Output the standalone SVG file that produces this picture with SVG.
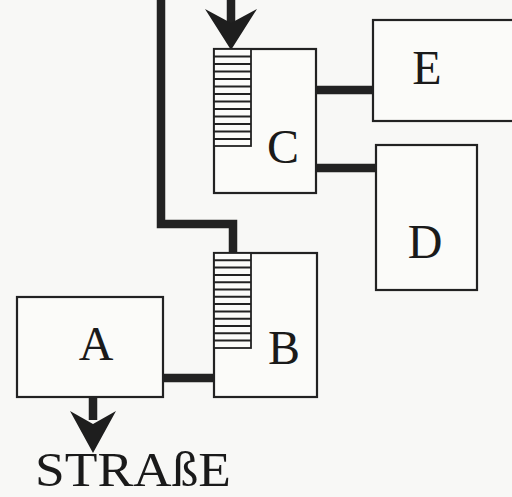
<svg xmlns="http://www.w3.org/2000/svg" width="512" height="497" viewBox="0 0 512 497">
<style>
.box{fill:#fbfbf9;stroke:#222;stroke-width:2.2}
.hatch{fill:#fbfbf9;stroke:#222;stroke-width:1.8}
.hl{stroke:#222;stroke-width:2}
.pipe{fill:none;stroke:#222;stroke-width:8.5;stroke-linejoin:miter;stroke-linecap:butt}
.lbl{font-family:"Liberation Serif","Times New Roman",serif;font-size:48px;fill:#1a1a1a;text-anchor:middle}
.arrow{fill:#1e1e1e}
</style>
<rect width="512" height="497" fill="#f8f8f6"/>
<g id="connectors">
<polyline class="pipe" points="161,0 161,224 233,224 233,254"/>
<line class="pipe" x1="163" y1="378" x2="215" y2="378"/>
<line class="pipe" x1="316" y1="90" x2="374" y2="90"/>
<line class="pipe" x1="316" y1="168" x2="377" y2="168"/>
<line class="pipe" x1="231" y1="0" x2="231" y2="28"/>
<polygon class="arrow" points="205,9 231,23 257,9 231,50"/>
<line class="pipe" x1="93" y1="397" x2="93" y2="420"/>
<polygon class="arrow" points="70,411 93,424 116,411 93,453"/>
</g>
<g id="node-C">
<rect class="box" x="214" y="49" width="102" height="144"/>
<rect class="hatch" x="214" y="49" width="37" height="97"/>
<g class="hl">
<line x1="214" x2="251" y1="56.5" y2="56.5"/><line x1="214" x2="251" y1="64" y2="64"/>
<line x1="214" x2="251" y1="71.5" y2="71.5"/><line x1="214" x2="251" y1="79" y2="79"/>
<line x1="214" x2="251" y1="86.5" y2="86.5"/><line x1="214" x2="251" y1="94" y2="94"/>
<line x1="214" x2="251" y1="101.5" y2="101.5"/><line x1="214" x2="251" y1="109" y2="109"/>
<line x1="214" x2="251" y1="116.5" y2="116.5"/><line x1="214" x2="251" y1="124" y2="124"/>
<line x1="214" x2="251" y1="131.5" y2="131.5"/><line x1="214" x2="251" y1="139" y2="139"/>
</g>
<text class="lbl" x="283" y="163">C</text>
</g>
<g id="node-B">
<rect class="box" x="214" y="253" width="103" height="144"/>
<rect class="hatch" x="214" y="253" width="37" height="95"/>
<g class="hl">
<line x1="214" x2="251" y1="260.3" y2="260.3"/><line x1="214" x2="251" y1="267.6" y2="267.6"/>
<line x1="214" x2="251" y1="274.9" y2="274.9"/><line x1="214" x2="251" y1="282.2" y2="282.2"/>
<line x1="214" x2="251" y1="289.5" y2="289.5"/><line x1="214" x2="251" y1="296.8" y2="296.8"/>
<line x1="214" x2="251" y1="304.1" y2="304.1"/><line x1="214" x2="251" y1="311.4" y2="311.4"/>
<line x1="214" x2="251" y1="318.7" y2="318.7"/><line x1="214" x2="251" y1="326" y2="326"/>
<line x1="214" x2="251" y1="333.3" y2="333.3"/><line x1="214" x2="251" y1="340.6" y2="340.6"/>
</g>
<text class="lbl" x="284" y="364">B</text>
</g>
<g id="node-A">
<rect class="box" x="17" y="297" width="146" height="100"/>
<text class="lbl" x="96" y="360">A</text>
</g>
<g id="node-E">
<rect class="box" x="373" y="20" width="145" height="101"/>
<text class="lbl" x="427" y="84">E</text>
</g>
<g id="node-D">
<rect class="box" x="376" y="145" width="101" height="145"/>
<text class="lbl" x="425" y="258">D</text>
</g>
<text class="lbl" x="133" y="486" font-size="44" textLength="196" lengthAdjust="spacingAndGlyphs">STRAßE</text>
</svg>
